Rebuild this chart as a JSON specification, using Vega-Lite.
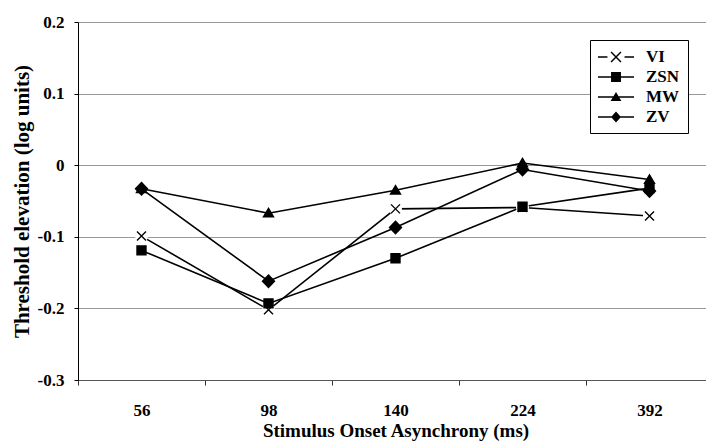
{
  "$schema": "https://vega.github.io/schema/vega-lite/v6.json",
  "autosize": {"type": "none"},
  "padding": {"left": 78, "top": 22, "right": 0, "bottom": 66},
  "width": 628,
  "height": 358,
  "background": "white",
  "config": {
    "view": {"stroke": null},
    "font": "Liberation Serif"
  },
  "data": {
    "values": [
      {"soa": 56, "series": "VI", "v": -0.099},
      {"soa": 98, "series": "VI", "v": -0.202},
      {"soa": 140, "series": "VI", "v": -0.061},
      {"soa": 224, "series": "VI", "v": -0.059},
      {"soa": 392, "series": "VI", "v": -0.071},
      {"soa": 56, "series": "ZSN", "v": -0.119},
      {"soa": 98, "series": "ZSN", "v": -0.193},
      {"soa": 140, "series": "ZSN", "v": -0.130},
      {"soa": 224, "series": "ZSN", "v": -0.058},
      {"soa": 392, "series": "ZSN", "v": -0.032},
      {"soa": 56, "series": "MW", "v": -0.033},
      {"soa": 98, "series": "MW", "v": -0.067},
      {"soa": 140, "series": "MW", "v": -0.035},
      {"soa": 224, "series": "MW", "v": 0.003},
      {"soa": 392, "series": "MW", "v": -0.020},
      {"soa": 56, "series": "ZV", "v": -0.033},
      {"soa": 98, "series": "ZV", "v": -0.162},
      {"soa": 140, "series": "ZV", "v": -0.087},
      {"soa": 224, "series": "ZV", "v": -0.006},
      {"soa": 392, "series": "ZV", "v": -0.036}
    ]
  },
  "encoding": {
    "x": {
      "field": "soa",
      "type": "ordinal",
      "scale": {"type": "band", "paddingInner": 0, "paddingOuter": 0, "range": [0, 635]},
      "axis": {
        "title": "Stimulus Onset Asynchrony (ms)",
        "labelAngle": 0,
        "tickBand": "extent",
        "tickSize": 5,
        "tickColor": "#333",
        "domainColor": "#555",
        "labelFont": "Liberation Serif",
        "labelFontWeight": "bold",
        "labelFontSize": 17,
        "labelColor": "black",
        "labelPadding": 17,
        "titleFont": "Liberation Serif",
        "titleFontWeight": "bold",
        "titleFontSize": 19,
        "titleColor": "black",
        "titlePadding": 3,
        "grid": false
      }
    },
    "y": {
      "field": "v",
      "type": "quantitative",
      "scale": {"domain": [-0.3, 0.2], "nice": false, "zero": false},
      "axis": {
        "title": "Threshold elevation (log units)",
        "values": [-0.3, -0.2, -0.1, 0, 0.1, 0.2],
        "labelExpr": "toString(round(datum.value*10)/10)",
        "grid": true,
        "gridColor": "#999",
        "gridWidth": 1,
        "domainColor": "black",
        "tickColor": "black",
        "tickSize": 4,
        "labelFont": "Liberation Serif",
        "labelFontWeight": "bold",
        "labelFontSize": 17,
        "labelColor": "black",
        "labelPadding": 10,
        "titleFont": "Liberation Serif",
        "titleFontWeight": "bold",
        "titleFontSize": 21,
        "titleColor": "black",
        "titlePadding": 5
      }
    }
  },
  "resolve": {"scale": {"shape": "independent"}},
  "layer": [
    {
      "mark": {"type": "line", "color": "black", "strokeWidth": 1.6},
      "encoding": {"detail": {"field": "series", "type": "nominal"}}
    },
    {
      "transform": [{"filter": "datum.series == 'VI'"}],
      "mark": {"type": "point", "shape": "circle", "filled": true, "color": "white", "opacity": 1, "size": 170}
    },
    {
      "mark": {"type": "point", "fill": "black", "stroke": "black", "strokeWidth": 1.4, "opacity": 1, "size": 100},
      "encoding": {
        "shape": {
          "field": "series",
          "type": "nominal",
          "scale": {
            "domain": ["VI", "ZSN", "MW", "ZV"],
            "range": [
              "M-0.9,-0.9L0.9,0.9M-0.9,0.9L0.9,-0.9",
              "M-0.9,-0.9H0.9V0.9H-0.9Z",
              "M0,-0.95L1,0.75H-1Z",
              "M0,-1.25L1.2,0L0,1.25L-1.2,0Z"
            ]
          },
          "legend": null
        }
      }
    },
    {
      "transform": [{"filter": "false"}],
      "mark": {"type": "point", "filled": true, "fill": "black", "opacity": 1, "size": 324},
      "encoding": {
        "shape": {
          "field": "series",
          "type": "nominal",
          "scale": {
            "domain": ["VI", "ZSN", "MW", "ZV"],
            "range": [
              "M-2,-0.085H-0.95V0.085H-2ZM0.95,-0.085H2V0.085H0.95ZM-0.493,-0.607L0.607,0.493L0.493,0.607L-0.607,-0.493ZM-0.607,0.493L0.493,-0.607L0.607,-0.493L-0.493,0.607Z",
              "M-2,-0.085H2V0.085H-2ZM-0.55,-0.55H0.55V0.55H-0.55Z",
              "M-2,-0.085H2V0.085H-2ZM0,-0.55L0.6,0.45H-0.6Z",
              "M-2,-0.085H2V0.085H-2ZM0,-0.6L0.55,0L0,0.6L-0.55,0Z"
            ]
          },
          "legend": {
            "title": null,
            "orient": "top-right",
            "offset": 18,
            "strokeColor": "black",
            "fillColor": "white",
            "padding": 8,
            "rowPadding": 3,
            "symbolSize": 324,
            "symbolOffset": 9,
            "labelOffset": 21,
            "labelFont": "Liberation Serif",
            "labelFontWeight": "bold",
            "labelFontSize": 17,
            "labelColor": "black",
            "symbolStrokeWidth": 0,
            "symbolFillColor": "black",
            "symbolOpacity": 1
          }
        }
      }
    }
  ]
}
